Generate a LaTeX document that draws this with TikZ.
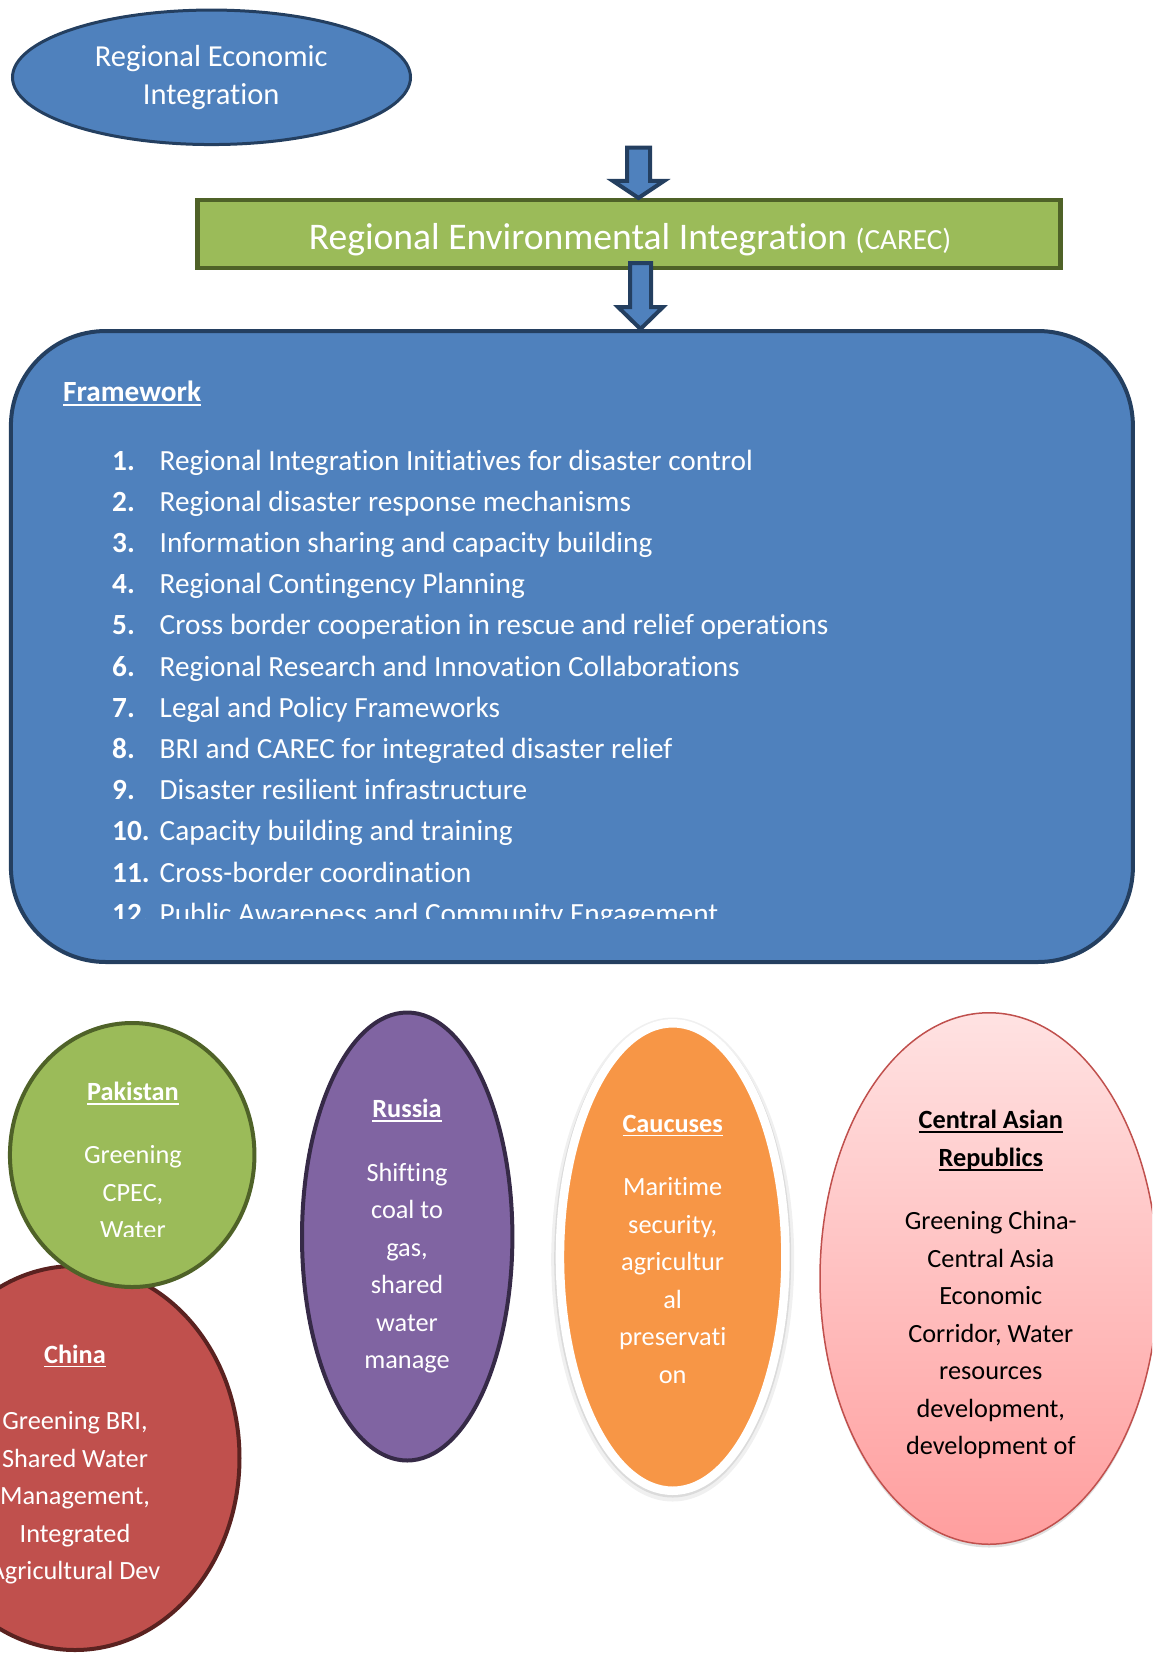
\documentclass[tikz,border=0pt]{standalone}
\usepackage{fontspec}
\setmainfont{Carlito}[Ligatures={CommonOff,ContextualOff}]
\usetikzlibrary{shapes.geometric,calc}
\definecolor{accblue}{HTML}{4F81BD}
\definecolor{navy}{HTML}{243F60}
\definecolor{accgreen}{HTML}{9BBB59}
\definecolor{darkgreen}{HTML}{4F6228}
\definecolor{accpurple}{HTML}{8064A2}
\definecolor{darkpurple}{HTML}{362A47}
\definecolor{accred}{HTML}{C0504D}
\definecolor{darkred}{HTML}{5A2220}
\definecolor{accorange}{HTML}{F79646}
\definecolor{pinktop}{HTML}{FFE2E2}
\definecolor{pinkbot}{HTML}{FF9E9E}
\newcommand\ulx[1]{\setbox0\hbox{#1}\rlap{\vrule height -0.1em depth 0.17em width \wd0}\box0}
\newcommand\lns[1]{\begin{tabular}[t]{@{}c@{}}#1\end{tabular}}
\newcommand\topfont{\fontsize{30.5}{37.5}\selectfont}
\newcommand\greenfont{\fontsize{37.6}{44}\selectfont}
\newcommand\carecfont{\fontsize{29.2}{34}\selectfont}
\newcommand\listfont{\fontsize{29.3}{41.2}\selectfont}
\newcommand\bfont{\fontsize{26.3}{37.5}\selectfont}
\newcommand\blockarrow[5]{%
  \draw[barrow] ($(#1)+(-#3,0)$) -- ($(#1)+(#3,0)$) -- ($(#2)+(#3,-#5)$)
    -- ($(#2)+(#4,-#5)$) -- (#2) -- ($(#2)+(-#4,-#5)$) -- ($(#2)+(-#3,-#5)$) -- cycle;}
\tikzset{
  blob/.style={ellipse, inner sep=0pt, line width=4pt},
  barrow/.style={fill=accblue, draw=navy, line width=4pt, line join=miter},
  txt/.style={anchor=base, inner sep=0pt, text=white},
  itemnum/.style={anchor=base west, inner sep=0pt, text=white, font=\listfont\bfseries},
  itemtxt/.style={anchor=base west, inner sep=0pt, text=white, font=\listfont},
}
\begin{document}
\begin{tikzpicture}[x=1pt,y=-1pt]
\useasboundingbox (0,0) rectangle (1152,1655);
\clip (0,0) rectangle (1152,1655);

% top ellipse
\node[ellipse, inner sep=0pt, line width=3pt, draw=navy, fill=accblue,
  minimum width=398pt, minimum height=134.5pt] (rei) at (211.5,77.3) {};
\node[txt, font=\topfont] (rei-t) at (211.2,66.5) {\lns{Regional Economic\\Integration}};

% green box
\node[rectangle, inner sep=0pt, line width=4.5pt, draw=darkgreen, fill=accgreen,
  minimum width=863pt, minimum height=67.6pt] (reib) at (629.2,234) {};
\node[txt, font=\greenfont] (reib-t) at (630,249.5)
  {Regional Environmental Integration {\carecfont(CAREC)}};

% framework box
\node[rectangle, inner sep=0pt, line width=4pt, draw=navy, fill=accblue,
  rounded corners=95pt, minimum width=1122pt, minimum height=631pt] (fw) at (571.9,646.5) {};

% block arrows
\coordinate (a1s) at (638.5,147.5);
\coordinate (a1e) at (a1s |- reib.north);
\blockarrow{a1s}{a1e}{11.5}{25.5}{17}
\coordinate (a2s) at (640.5,263);
\coordinate (a2e) at (a2s |- fw.north);
\blockarrow{a2s}{a2e}{10.5}{22.5}{22}

% framework text
\node[anchor=base west, inner sep=0pt, text=white, font=\listfont\bfseries] (fw-h) at (63,401) {\ulx{Framework}};
\begin{scope}
\clip (0,0) rectangle (1152,918);
\foreach \i/\t in {1/Regional Integration Initiatives for disaster control,
  2/Regional disaster response mechanisms,
  3/Information sharing and capacity building,
  4/Regional Contingency Planning,
  5/Cross border cooperation in rescue and relief operations,
  6/Regional Research and Innovation Collaborations,
  7/Legal and Policy Frameworks,
  8/BRI and CAREC for integrated disaster relief,
  9/Disaster resilient infrastructure,
  10/Capacity building and training,
  11/Cross-border coordination,
  12/Public Awareness and Community Engagement}{
  \node[itemnum] (n\i) at (112,{470+41.2*(\i-1)}) {\i.};
  \node[itemtxt] (t\i) at (159.5,{470+41.2*(\i-1)}) {\t};
}
\end{scope}

% China
\node[blob, draw=darkred, fill=accred, minimum width=329pt, minimum height=384pt] (chn) at (75,1458) {};
\node[txt, font=\bfont] (chn-t) at (75,1363)
  {\lns{\textbf{\ulx{China}}\\[29pt] Greening BRI,\\Shared Water\\Management,\\Integrated\\Agricultural Dev}};

% Pakistan
\node[blob, draw=darkgreen, fill=accgreen, minimum width=244.5pt, minimum height=264pt] (pak) at (132.2,1155) {};
\begin{scope}
\clip (0,0) rectangle (1152,1236);
\node[txt, font=\bfont] (pak-t) at (132.9,1100.3)
  {\lns{\textbf{\ulx{Pakistan}}\\[26pt] Greening\\CPEC,\\Water}};
\end{scope}

% Russia
\node[blob, draw=darkpurple, fill=accpurple, minimum width=210.4pt, minimum height=448pt] (rus) at (407.2,1236.5) {};
\node[txt, font=\bfont] (rus-t) at (407,1117.5)
  {\lns{\textbf{\ulx{Russia}}\\[26pt] Shifting\\coal to\\gas,\\shared\\water\\manage}};

% Caucuses
\fill[gray!12] (672.7,1259.5) ellipse [x radius=121.5pt, y radius=242pt];
\fill[gray!28] (672.7,1258.5) ellipse [x radius=118.5pt, y radius=239pt];
\node[ellipse, inner sep=0pt, line width=8.5pt, draw=white, fill=accorange,
  minimum width=225.5pt, minimum height=467.5pt] (cau) at (672.7,1257) {};
\node[txt, font=\bfont] (cau-t) at (672.7,1132)
  {\lns{\textbf{\ulx{Caucuses}}\\[26pt] Maritime\\security,\\agricultur\\al\\preservati\\on}};

% Central Asian Republics
\fill[gray!25] (989,1281) ellipse [x radius=169pt, y radius=266.5pt];
\node[ellipse, inner sep=0pt, line width=1.5pt, draw=accred, top color=pinktop, bottom color=pinkbot,
  minimum width=338pt, minimum height=531.5pt] (car) at (989,1278.5) {};
\node[txt, text=black, font=\bfont] (car-t) at (990.8,1128.6)
  {\lns{\textbf{\ulx{Central Asian}}\\\textbf{\ulx{Republics}}\\[26pt] Greening China-\\Central Asia\\Economic\\Corridor, Water\\resources\\development,\\development of}};
\end{tikzpicture}
\end{document}
